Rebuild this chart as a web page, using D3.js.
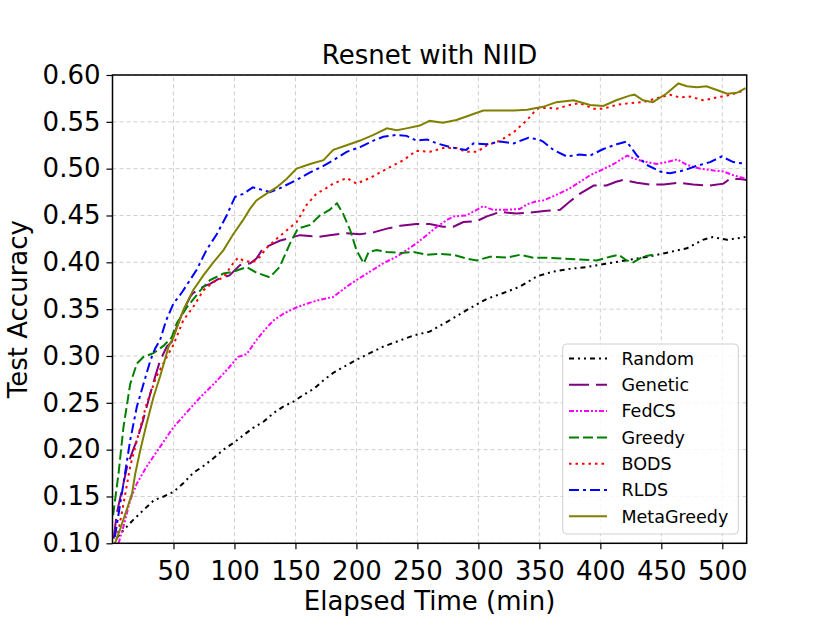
<!DOCTYPE html>
<html><head><meta charset="utf-8">
<script src="https://cdn.jsdelivr.net/npm/d3@7"></script>
<style>body{margin:0;background:#fff}svg{display:block}text{font-family:"DejaVu Sans",sans-serif}</style>
</head><body><svg id="c" width="830" height="623"></svg>
<script>
const xTicks = [50,100,150,200,250,300,350,400,450,500];
const yTicks = [0.10,0.15,0.20,0.25,0.30,0.35,0.40,0.45,0.50,0.55,0.60];
const seriesNames = ["Random","Genetic","FedCS","Greedy","BODS","RLDS","MetaGreedy"];

const randomData = [[3,0.105],[9,0.114],[17,0.125],[25,0.135],[34,0.146],[42,0.15],[50,0.155],[58,0.164],[66,0.175],[74,0.182],[83,0.191],[91,0.20],[99,0.207],[107,0.215],[115,0.223],[124,0.23],[132,0.239],[140,0.246],[148,0.251],[156,0.258],[165,0.265],[173,0.274],[181,0.282],[200,0.296],[222,0.310],[247,0.322],[260,0.326],[275,0.337],[293,0.351],[307,0.361],[320,0.367],[334,0.374],[348,0.385],[361,0.39],[375,0.393],[389,0.395],[402,0.398],[416,0.401],[430,0.404],[443,0.407],[457,0.411],[471,0.415],[484,0.424],[492,0.427],[504,0.424],[519,0.427]];
const geneticData = [[1,0.105],[3.5,0.132],[9,0.164],[12,0.182],[17,0.20],[20,0.21],[25,0.231],[31,0.26],[35,0.278],[39,0.295],[44.5,0.31],[48.6,0.315],[52.7,0.331],[58,0.348],[63.6,0.363],[66,0.367],[74.5,0.374],[80,0.377],[88,0.383],[96,0.386],[104.5,0.397],[113,0.399],[118,0.404],[123.6,0.415],[132,0.42],[137,0.423],[142.7,0.425],[153.6,0.429],[162,0.428],[168.6,0.427],[178,0.429],[192,0.431],[203,0.43],[214,0.432],[225,0.436],[236,0.439],[249,0.441],[260,0.441],[271,0.438],[279.5,0.438],[287.7,0.443],[298.6,0.444],[307,0.449],[318,0.454],[331,0.452],[342,0.453],[356,0.455],[367,0.456],[375,0.465],[383,0.473],[394.5,0.482],[405,0.482],[413,0.486],[419,0.488],[430,0.485],[441,0.483],[452,0.483],[465,0.485],[476,0.483],[490,0.482],[501,0.484],[506,0.489],[514.5,0.489],[520,0.488]];
const fedcsData = [[5,0.10],[9,0.118],[14.5,0.146],[20,0.164],[28,0.182],[39,0.203],[50,0.224],[61,0.24],[72,0.256],[83,0.27],[93.7,0.285],[103,0.299],[110,0.302],[118,0.317],[123.6,0.326],[132,0.338],[140,0.345],[151,0.352],[162,0.357],[170,0.36],[181,0.363],[192,0.374],[200,0.381],[211,0.39],[222,0.399],[233,0.406],[241,0.413],[249,0.42],[257.6,0.429],[266,0.438],[274,0.445],[279.5,0.449],[290,0.45],[298.6,0.456],[304,0.46],[312,0.456],[323,0.456],[334,0.457],[340,0.462],[347,0.465],[353,0.466],[364,0.472],[375,0.479],[383.4,0.486],[391.6,0.493],[400,0.498],[411,0.505],[422,0.514],[427,0.511],[435,0.508],[446,0.505],[454.5,0.507],[463,0.51],[471,0.504],[482,0.50],[493,0.498],[501,0.497],[509,0.493],[520,0.489]];
const greedyData = [[0.5,0.13],[5,0.175],[9,0.224],[14.5,0.27],[20,0.292],[25.4,0.299],[33.6,0.303],[42,0.311],[48.6,0.32],[52.7,0.335],[61,0.352],[72,0.37],[80,0.381],[91,0.388],[99,0.39],[110,0.395],[118,0.389],[129,0.384],[137,0.395],[145.5,0.42],[152,0.436],[162,0.44],[170,0.45],[178,0.456],[184,0.463],[189,0.452],[195,0.434],[200,0.413],[206,0.399],[210,0.411],[216.6,0.413],[225,0.411],[236,0.41],[247,0.411],[257.6,0.408],[268.5,0.409],[279.5,0.408],[290.4,0.404],[298.6,0.402],[309.5,0.406],[323,0.405],[334,0.408],[345,0.405],[356,0.405],[370,0.404],[383.4,0.403],[397,0.402],[408,0.406],[415,0.408],[421.6,0.402],[427,0.40],[435,0.406],[443,0.408]];
const bodsData = [[3.5,0.104],[9,0.142],[14.5,0.182],[20,0.21],[28,0.249],[36,0.278],[44.5,0.299],[50,0.312],[58,0.338],[66,0.352],[74.5,0.37],[82.7,0.379],[91,0.384],[99,0.399],[103,0.405],[107,0.402],[115,0.40],[121,0.406],[126,0.415],[134.5,0.425],[142.7,0.434],[151,0.443],[159,0.461],[167,0.473],[175,0.479],[181,0.484],[192,0.49],[200,0.484],[211,0.49],[225,0.50],[238.5,0.509],[249,0.519],[260,0.518],[271,0.522],[282,0.522],[290,0.518],[299,0.518],[307,0.525],[318,0.530],[329,0.539],[340,0.552],[348,0.564],[356,0.565],[364,0.564],[375,0.568],[383,0.57],[394.5,0.564],[402.5,0.564],[413,0.568],[424,0.57],[435,0.571],[446,0.575],[457,0.579],[465,0.576],[473.5,0.577],[484.5,0.573],[495.5,0.576],[504,0.578],[512,0.581],[519,0.584]];
const rldsData = [[2,0.107],[9,0.164],[14.5,0.21],[20,0.246],[25.4,0.27],[31,0.295],[35,0.308],[39,0.317],[44,0.338],[50,0.356],[57,0.368],[69,0.392],[77,0.413],[85.5,0.43],[93.6,0.45],[100.5,0.47],[107,0.473],[115,0.48],[123.6,0.477],[129,0.475],[137,0.479],[151,0.488],[162,0.496],[173,0.503],[181,0.509],[192,0.518],[203,0.523],[214,0.53],[222,0.534],[233,0.536],[241,0.535],[249,0.53],[258,0.531],[266,0.527],[277,0.523],[285,0.521],[290,0.52],[296,0.527],[307,0.526],[318,0.529],[329,0.527],[341,0.533],[350,0.531],[353,0.529],[361.5,0.52],[372.5,0.513],[383,0.515],[391.6,0.514],[402.5,0.521],[413.4,0.526],[421.6,0.529],[430,0.514],[438,0.504],[449,0.497],[457,0.495],[468,0.498],[479,0.503],[490,0.507],[499.5,0.513],[509,0.507],[520,0.505]];
const metaData = [[2,0.10],[6,0.114],[11.7,0.136],[16,0.153],[18.6,0.174],[22.7,0.199],[28,0.228],[33.6,0.256],[39,0.278],[46,0.31],[50,0.32],[58,0.349],[66,0.37],[74.5,0.386],[82.7,0.40],[91,0.413],[99,0.43],[107,0.445],[112.7,0.457],[118,0.466],[126,0.473],[134.5,0.48],[142.7,0.489],[151,0.50],[162,0.505],[173,0.509],[181,0.52],[192,0.525],[203,0.53],[214,0.536],[225,0.543],[233,0.541],[241,0.543],[252,0.546],[260,0.551],[271,0.549],[282,0.552],[293,0.557],[304,0.562],[318,0.562],[329,0.562],[340,0.563],[353,0.566],[364,0.571],[378,0.573],[391.6,0.568],[402.5,0.567],[413,0.573],[424,0.578],[428,0.579],[435,0.573],[443,0.571],[454,0.58],[464,0.591],[471,0.588],[479,0.587],[487,0.588],[495.5,0.584],[504,0.580],[512,0.581],[519,0.586]];

const allData = [randomData, geneticData, fedcsData, greedyData, bodsData, rldsData, metaData];
const colors = ["#000000","#800080","#ff00ff","#008000","#ff0000","#0000ff","#808000"];
const dashes = ["5,4,2,4,2,4","20,7","5,2,2,2,2,2","10,4","2.5,4","10,4,3,4",null];

const W = 830, H = 623;
const m = {l:112.5, r:83.3, t:75, b:79.7};
const svg = d3.select("#c");
const x = d3.scaleLinear().domain([0,520]).range([m.l, W-m.r]);
const y = d3.scaleLinear().domain([0.10,0.60]).range([H-m.b, m.t]);

// grid
const g = svg.append("g");
g.selectAll(".gx").data(xTicks).join("line")
  .attr("x1",d=>x(d)).attr("x2",d=>x(d)).attr("y1",y(0.10)).attr("y2",y(0.60))
  .attr("stroke","#cfcfcf").attr("stroke-width",1).attr("stroke-dasharray","4,3");
g.selectAll(".gy").data(yTicks).join("line")
  .attr("y1",d=>y(d)).attr("y2",d=>y(d)).attr("x1",x(0)).attr("x2",x(520))
  .attr("stroke","#cfcfcf").attr("stroke-width",1).attr("stroke-dasharray","4,3");

svg.append("clipPath").attr("id","clip").append("rect")
  .attr("x",x(0)).attr("y",y(0.60)).attr("width",x(520)-x(0)).attr("height",y(0.10)-y(0.60));

const line = d3.line().x(d=>x(d[0])).y(d=>y(d[1]));
const lg = svg.append("g").attr("clip-path","url(#clip)");
allData.forEach((data,i)=>{
  lg.append("path").datum(data).attr("d",line).attr("fill","none")
    .attr("stroke",colors[i]).attr("stroke-width",2)
    .attr("stroke-dasharray",dashes[i]);
});

// axes
const xAxis = svg.append("g").attr("transform",`translate(0,${y(0.10)})`)
  .call(d3.axisBottom(x).tickValues(xTicks).tickSize(6).tickPadding(6));
const yAxis = svg.append("g").attr("transform",`translate(${x(0)},0)`)
  .call(d3.axisLeft(y).tickValues(yTicks).tickFormat(d3.format(".2f")).tickSize(6).tickPadding(6));
[xAxis,yAxis].forEach(a=>{
  a.select(".domain").remove();
  a.selectAll("line").attr("stroke","#000").attr("stroke-width",1.2);
  a.selectAll("text").attr("font-size",26).attr("fill","#000").attr("font-family","DejaVu Sans");
});
xAxis.selectAll("text").attr("dy","0.95em");

// frame
svg.append("rect").attr("x",x(0)).attr("y",y(0.60)).attr("width",x(520)-x(0)).attr("height",y(0.10)-y(0.60))
  .attr("fill","none").attr("stroke","#000").attr("stroke-width",1.5);

// title & labels
svg.append("text").attr("x",(x(0)+x(520))/2).attr("y",64).attr("text-anchor","middle")
  .attr("font-size",26).text("Resnet with NIID");
svg.append("text").attr("x",(x(0)+x(520))/2).attr("y",610).attr("text-anchor","middle")
  .attr("font-size",26).text("Elapsed Time (min)");
svg.append("text").attr("transform",`translate(27,${(y(0.10)+y(0.60))/2}) rotate(-90)`).attr("text-anchor","middle")
  .attr("font-size",26).text("Test Accuracy");

// legend
const leg = svg.append("g");
leg.append("rect").attr("x",562.7).attr("y",344).attr("width",175.6).attr("height",190).attr("rx",4)
  .attr("fill","#fff").attr("fill-opacity",0.8).attr("stroke","#d0d0d0").attr("stroke-width",1);
seriesNames.forEach((n,i)=>{
  const cy = 358.5 + i*26.3;
  leg.append("line").attr("x1",569).attr("x2",607).attr("y1",cy).attr("y2",cy)
    .attr("stroke",colors[i]).attr("stroke-width",2).attr("stroke-dasharray",dashes[i]);
  leg.append("text").attr("x",621.5).attr("y",cy+6.3).attr("font-size",17.5).text(n);
});
</script></body></html>
